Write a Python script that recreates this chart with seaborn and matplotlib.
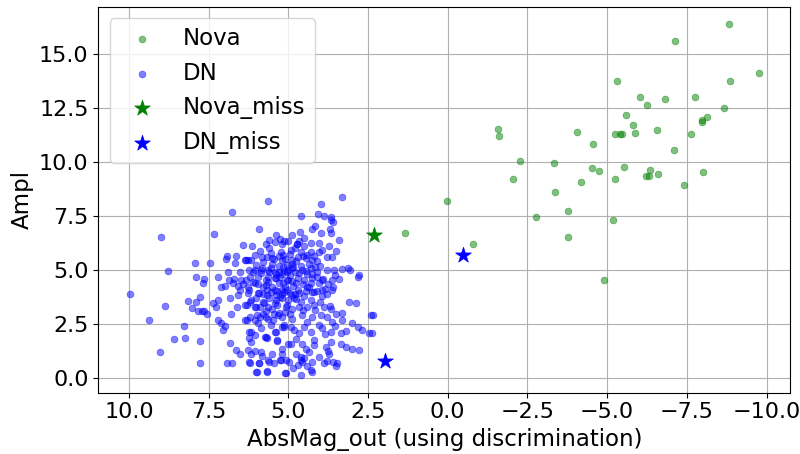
import pandas as pd
import matplotlib
matplotlib.use('Agg')
import matplotlib.pyplot as plt
import seaborn as sns

# ------------------Data------------------
# Nova (AbsMag_out, Ampl)
nova_points = [
    (-8.81, 16.36), (-7.14, 15.59), (-9.76, 14.12), (-5.30, 13.74), (-8.84, 13.74),
    (-6.02, 13.01), (-6.80, 12.89), (-7.75, 13.00), (-6.24, 12.63), (-8.65, 12.47),
    (-5.58, 12.18), (-8.14, 12.06), (-7.96, 11.96), (-7.96, 11.86), (-5.81, 11.72),
    (-1.59, 11.50), (-1.61, 11.18), (-4.06, 11.39), (-5.86, 11.33), (-6.56, 11.47),
    (-5.26, 11.27), (-5.40, 11.27), (-5.45, 11.27), (-7.64, 11.30), (-4.57, 10.84),
    (-7.11, 10.56), (-2.27, 10.06), (-3.34, 9.97), (-4.51, 9.71), (-4.75, 9.56),
    (-5.54, 9.77), (-5.23, 9.19), (-6.33, 9.62), (-6.23, 9.36), (-6.32, 9.36),
    (-6.60, 9.45), (-8.00, 9.52), (-7.42, 8.94), (-2.04, 9.22), (-4.19, 9.06),
    (-3.36, 8.60), (0.03, 8.18), (-3.78, 7.72), (-2.77, 7.46), (-5.19, 7.30),
    (-3.78, 6.55), (1.33, 6.72), (-0.80, 6.19), (-4.91, 4.54),
]

# DN (AbsMag_out, Ampl)
dn_points = [
    (5.63, 8.21), (6.78, 7.70), (8.98, 6.53), (7.32, 6.67), (5.91, 6.91),
    (5.61, 6.39), (5.42, 6.31), (5.26, 6.42), (5.13, 6.35), (5.00, 6.35),
    (6.42, 6.16), (6.14, 6.11), (4.74, 6.19),
    (6.92, 5.65), (6.95, 5.49), (6.63, 5.65), (6.37, 5.46), (6.26, 5.46), (6.03, 5.69),
    (5.67, 5.62), (5.44, 5.49), (5.23, 5.85), (5.16, 5.69),
    (7.93, 5.34), (7.46, 5.34), (6.68, 5.34), (8.77, 4.97), (7.89, 4.66), (7.66, 4.60),
    (7.68, 4.38), (7.21, 4.66),
    (9.97, 3.90), (8.86, 3.33), (9.37, 2.69), (8.16, 3.58), (8.02, 3.26), (7.78, 3.77),
    (7.84, 3.12), (7.71, 3.10), (7.55, 2.99), (7.89, 3.52), (7.66, 3.09),
    (7.37, 3.46), (7.26, 3.30), (7.19, 3.61), (7.11, 4.20), (7.00, 4.26), (6.82, 3.73),
    (6.86, 4.54), (6.73, 4.38), (6.58, 4.26), (6.49, 4.54), (6.42, 4.35), (6.26, 4.23),
    (6.11, 4.46), (5.95, 4.35), (5.78, 4.23), (5.63, 4.46), (5.42, 4.61), (5.16, 4.38),
    (5.00, 4.54),
    (6.60, 3.30), (6.58, 3.84), (6.79, 2.99), (7.21, 2.69), (7.11, 2.53), (7.05, 2.22),
    (6.98, 2.41),
    (8.26, 2.42), (8.58, 1.82), (8.24, 1.87), (7.76, 1.73), (9.02, 1.19), (7.78, 0.72),
    (6.92, 0.72), (6.77, 0.72),
    (6.84, 1.64), (6.63, 1.30), (6.51, 1.11), (6.21, 0.71), (5.93, 0.71), (6.01, 0.29),
    (5.67, 0.32), (5.11, 0.22),
    (6.23, 1.84), (6.26, 1.30), (6.03, 1.27), (5.81, 1.02), (5.72, 1.91), (5.63, 0.83),
    (5.44, 0.68), (5.37, 1.73), (5.21, 1.37), (5.08, 0.83), (5.26, 0.83), (5.00, 1.60),
    (6.37, 2.69), (6.21, 2.84), (6.05, 2.69), (5.89, 2.84), (5.79, 2.99), (5.63, 2.76),
    (5.47, 2.69), (5.32, 2.92), (5.13, 2.45), (4.92, 2.38), (5.21, 2.38), (5.42, 2.15),
    (5.86, 2.30), (6.16, 2.15),
    (6.37, 3.38), (6.16, 3.61), (6.00, 3.30), (5.79, 3.53), (5.63, 3.30), (5.42, 3.46),
    (5.21, 3.69), (5.05, 3.38),
    (6.53, 4.07), (6.26, 3.92), (5.95, 3.92), (5.68, 3.84), (5.42, 4.07), (5.21, 4.07),
    (6.05, 5.00), (5.84, 5.08), (5.63, 5.00), (5.42, 4.92), (5.16, 5.12), (5.05, 4.92),
    (5.95, 4.69), (5.63, 4.69), (5.26, 4.69),
    (3.31, 8.40), (3.97, 8.04), (4.61, 7.52), (4.06, 7.58), (3.88, 7.52), (3.67, 7.47),
    (3.65, 7.31),
    (4.16, 7.04), (4.25, 6.88), (3.65, 6.73), (3.96, 6.73), (4.64, 6.77),
    (4.72, 6.20), (4.51, 6.47), (4.30, 6.23), (4.04, 6.23), (3.72, 6.11),
    (4.93, 5.93), (4.61, 5.85), (4.30, 5.85), (4.04, 5.85), (3.64, 5.62), (4.46, 5.54),
    (4.25, 5.46), (4.87, 5.46), (5.19, 5.46), (5.50, 5.54), (5.82, 5.62),
    (6.18, 5.46), (6.34, 5.46), (6.23, 5.00), (5.87, 5.00), (5.55, 5.08), (5.29, 4.92),
    (4.87, 5.08), (4.56, 5.00), (4.30, 5.08), (4.09, 4.92), (3.78, 5.00), (3.57, 5.00),
    (3.33, 5.03), (3.12, 5.08), (3.08, 5.00),
    (3.41, 4.57), (3.93, 4.54), (3.64, 4.54), (4.25, 4.61), (4.51, 4.54), (4.77, 4.38),
    (5.03, 4.54), (5.40, 4.61), (5.71, 4.54), (6.03, 4.38), (6.34, 4.54), (2.83, 4.69),
    (2.78, 4.77),
    (3.62, 4.07), (3.93, 4.07), (4.25, 4.00), (4.40, 4.23), (4.87, 3.84), (4.82, 3.69),
    (5.14, 4.00), (5.40, 3.84), (5.66, 4.07), (5.92, 3.92), (6.23, 4.07),
    (3.86, 4.12), (4.10, 4.02),
    (5.76, 3.46), (6.03, 3.30), (6.29, 3.38), (5.35, 3.38), (5.08, 3.30), (4.67, 3.30),
    (4.19, 3.38), (3.88, 3.30), (3.67, 3.22), (3.10, 3.53), (2.89, 3.46), (2.42, 2.92),
    (2.34, 2.92), (3.31, 3.00), (3.70, 3.32),
    (3.51, 2.99), (3.78, 2.84), (3.99, 2.92), (4.25, 2.84), (4.56, 2.92), (4.87, 2.76),
    (5.19, 2.84), (5.45, 2.99), (5.71, 2.84), (5.97, 2.92), (6.29, 2.69),
    (3.62, 2.61), (3.31, 2.69), (3.00, 2.56), (2.83, 2.38), (2.68, 2.25), (2.47, 2.07),
    (2.36, 2.07), (3.36, 2.10), (3.67, 2.15), (3.93, 2.30), (4.30, 2.15), (4.51, 2.38),
    (4.82, 2.22), (5.14, 2.38), (5.40, 2.15), (5.71, 1.91), (6.03, 1.99), (6.23, 2.15),
    (3.67, 1.68), (3.36, 1.60), (3.20, 1.45), (2.99, 1.37), (2.78, 1.30), (3.83, 1.45),
    (4.19, 1.53), (4.56, 1.60), (4.93, 1.60), (5.35, 1.76), (5.66, 1.84), (6.18, 1.68),
    (4.35, 1.22), (4.77, 1.14), (5.19, 1.14), (5.50, 1.14), (5.87, 1.22), (6.18, 1.14),
    (3.72, 1.14), (3.75, 1.24),
    (3.61, 0.76), (3.46, 0.68), (3.88, 0.68), (4.25, 0.76), (4.56, 0.76), (4.61, 0.83),
    (4.98, 0.76), (5.24, 0.83), (5.61, 0.76), (5.92, 0.68), (6.23, 0.76), (3.80, 0.80),
    (3.51, 0.58),
    (5.97, 0.29), (5.66, 0.29), (5.08, 0.22), (4.61, 0.14), (4.25, 0.29), (4.30, 0.36),
    # dense core
    (5.50, 5.30), (5.30, 5.20), (5.10, 5.50), (4.90, 5.30), (4.70, 5.60), (5.60, 4.90),
    (5.40, 4.80), (5.20, 4.80), (5.00, 5.00), (4.80, 4.90), (4.60, 5.20), (5.70, 4.30),
    (5.50, 4.20), (5.30, 4.40), (5.10, 4.20), (4.90, 4.50), (4.70, 4.10), (5.80, 3.90),
    (5.60, 3.70), (5.40, 3.60), (5.20, 3.90), (5.00, 3.60), (4.80, 3.90), (4.60, 3.50),
    (6.10, 4.90), (6.00, 3.70), (6.20, 3.50), (5.90, 3.30), (5.70, 3.10), (5.50, 3.20),
    (5.30, 3.00), (4.40, 4.80), (4.30, 4.40), (4.20, 4.00), (4.50, 3.80), (4.40, 3.30),
    (4.10, 4.70), (4.00, 5.20), (3.90, 4.60), (3.80, 3.90), (4.00, 3.50), (3.60, 4.20),
    (5.90, 5.90), (5.60, 6.00), (5.20, 6.20), (4.80, 6.00), (4.50, 6.10), (4.40, 5.70),
    (4.10, 5.40), (3.80, 5.60), (3.50, 5.90), (3.40, 6.40), (3.70, 6.90), (3.60, 7.20),
    (4.90, 6.60), (5.40, 6.60), (5.70, 6.20), (6.50, 4.90), (6.70, 4.60), (6.90, 4.90),
    (4.95, 5.75), (4.75, 5.40), (4.55, 5.65), (4.35, 5.30), (4.15, 5.15), (4.85, 5.15),
    (5.05, 5.25), (4.65, 4.85), (4.45, 4.95), (4.25, 4.80), (4.95, 4.75), (5.15, 4.95),
    (4.70, 4.65), (4.55, 4.35), (4.35, 4.20), (4.85, 4.25), (5.05, 4.10), (4.65, 3.95),
    (4.45, 4.05), (4.95, 3.95), (5.25, 3.75), (4.75, 3.65), (4.55, 3.15), (4.90, 3.20),
    (5.10, 3.05), (4.30, 3.60), (4.15, 3.15), (3.95, 3.80), (3.75, 4.35), (3.55, 4.75),
    (4.05, 4.40), (4.20, 5.65), (3.95, 5.95), (4.65, 6.35), (5.30, 5.65), (5.55, 5.80),
    (5.80, 5.35), (6.00, 5.25), (6.20, 4.70), (5.85, 4.85), (5.35, 4.05), (5.55, 4.00),
    (4.60, 1.00), (4.45, 1.35), (4.70, 0.60), (4.40, 0.55), (4.85, 0.45), (4.05, 1.00),
    (4.50, 0.95), (4.20, 1.75), (4.75, 1.80), (4.05, 2.45), (4.40, 2.60), (4.65, 2.10),
    (3.85, 2.05), (3.55, 2.40), (3.20, 2.20), (4.95, 2.95), (5.55, 2.45), (5.95, 2.55),
]

nova_miss_points = [(2.30, 6.64)]
dn_miss_points = [(-0.47, 5.70), (1.97, 0.81)]


def to_df(points):
    return pd.DataFrame(points, columns=['AbsMag_out', 'Ampl'])


nova = to_df(nova_points)
dn = to_df(dn_points)
nova_miss = to_df(nova_miss_points)
dn_miss = to_df(dn_miss_points)

# ------------------Plot------------------
fig, ax = plt.subplots(figsize=(8, 4.54), dpi=100)

sns.scatterplot(data=nova, x='AbsMag_out', y='Ampl', color='green', alpha=0.5,
                s=24, edgecolor='green', linewidth=0.5, label='Nova', ax=ax)
sns.scatterplot(data=dn, x='AbsMag_out', y='Ampl', color='blue', alpha=0.5,
                s=24, edgecolor='blue', linewidth=0.5, label='DN', ax=ax)
sns.scatterplot(data=nova_miss, x='AbsMag_out', y='Ampl', color='green', marker='*',
                s=140, edgecolor='green', linewidth=0.5, label='Nova_miss', ax=ax)
sns.scatterplot(data=dn_miss, x='AbsMag_out', y='Ampl', color='blue', marker='*',
                s=140, edgecolor='blue', linewidth=0.5, label='DN_miss', ax=ax)

ax.invert_xaxis()
ax.grid(True, color='#b0b0b0', linewidth=0.8)
ax.set_axisbelow(True)
ax.set_xlabel('AbsMag_out (using discrimination)', fontsize=16.5)
ax.set_ylabel('Ampl', fontsize=16.5)
ax.tick_params(labelsize=16)
ax.legend(loc='upper left', fontsize=16.5)

fig.subplots_adjust(left=0.123, right=0.988, top=0.985, bottom=0.135)
fig.savefig('out.png', dpi=100)
